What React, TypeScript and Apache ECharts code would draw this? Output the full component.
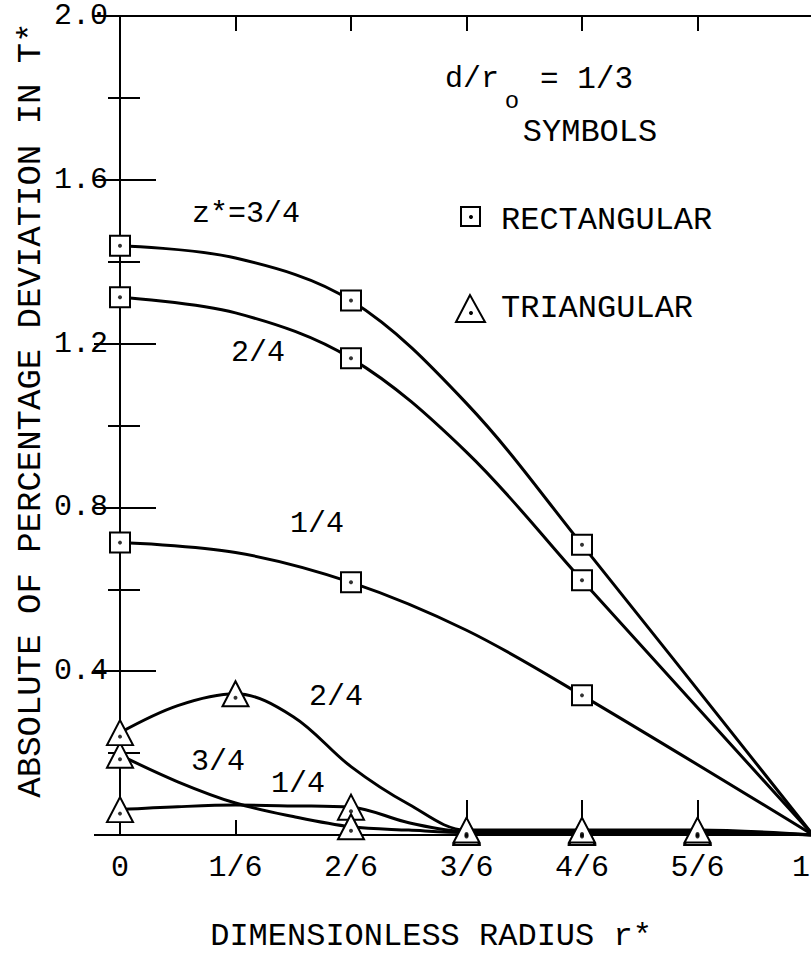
import React, { useEffect, useRef } from "react";
import * as echarts from "echarts";

// ---- data ----
const xTickValues = [0, 1 / 6, 2 / 6, 3 / 6, 4 / 6, 5 / 6, 1];
const xTickLabels = ["0", "1/6", "2/6", "3/6", "4/6", "5/6", "1"];
const yTickLabels = ["", "0.4", "0.8", "1.2", "1.6", "2.0"];

// rectangular elements (squares)
const rectR = [0, 1 / 6, 2 / 6, 3 / 6, 4 / 6, 1];
const rectMarked = [true, false, true, false, true, false];
const rectZ34 = [1.439, 1.409, 1.305, 1.054, 0.709, 0];
const rectZ24 = [1.313, 1.275, 1.164, 0.935, 0.622, 0];
const rectZ14 = [0.714, 0.69, 0.617, 0.5, 0.341, 0];

// triangular elements
const triR = [0, 1 / 12, 1 / 6, 1 / 4, 2 / 6, 5 / 12, 3 / 6, 4 / 6, 5 / 6, 1];
const triZ24 = [0.25, 0.316, 0.345, 0.289, 0.167, 0.075, 0.012, 0.012, 0.012, 0];
const triMarked24 = [true, false, true, false, false, false, true, true, true, false];
const triZ34 = [0.195, 0.13, 0.078, 0.045, 0.02, 0.012, 0.006, 0.006, 0.006, 0];
const triMarked34 = [true, false, false, false, true, false, true, true, true, false];
const triZ14 = [0.062, 0.069, 0.073, 0.071, 0.068, 0.03, 0.009, 0.009, 0.009, 0];
const triMarked14 = [true, false, false, false, true, false, true, true, true, false];

const FONT = "'Liberation Mono', 'Courier New', monospace";

function curve(name: string, rs: number[], vals: number[], marks: boolean[], symbol: string, size: any) {
  return {
    type: "line",
    name,
    smooth: 0.35,
    clip: false,
    symbolSize: size,
    data: rs.map((r, i) => ({ value: [r, vals[i]], symbol: marks[i] ? symbol : "none" })),
    lineStyle: { color: "#000", width: 3 },
    itemStyle: { color: "#fff", borderColor: "#000", borderWidth: 2 },
    z: 3,
  };
}

function dots(rs: number[], vals: number[], marks: boolean[], offsetY: number) {
  return {
    type: "scatter",
    clip: false,
    silent: true,
    symbol: "circle",
    symbolSize: 4,
    symbolOffset: [0, offsetY],
    data: rs.map((r, i) => [r, vals[i]]).filter((_, i) => marks[i]),
    itemStyle: { color: "#000" },
    z: 6,
  };
}

function txt(text: string, x: number, y: number, size: number, align = "center", extra: any = {}) {
  return {
    type: "text",
    x,
    y,
    z: 10,
    ...extra,
    style: {
      text,
      fill: "#000",
      font: `${size}px ${FONT}`,
      textAlign: align,
      textVerticalAlign: "middle",
    },
  };
}

const xLabel = (v: number) => xTickLabels[Math.round(v * 6)] ?? "";

export default function App() {
  const ref = useRef<HTMLDivElement>(null);
  useEffect(() => {
    const chart = echarts.init(ref.current!, null, { renderer: "svg" });
    const axisLine = { show: true, lineStyle: { color: "#000", width: 2 } };
    const option: any = {
      animation: false,
      backgroundColor: "#fff",
      grid: {
        left: 120,
        top: 16,
        width: 693,
        height: 819,
        containLabel: false,
        outerBoundsMode: "none",
      },
      xAxis: [
        {
          type: "value",
          position: "bottom",
          min: 0,
          max: 1,
          interval: 1 / 6,
          axisLine,
          splitLine: { show: false },
          axisTick: { show: true, inside: true, length: 15, customValues: [xTickValues[1]], lineStyle: { color: "#000", width: 2 } },
          axisLabel: {
            margin: 18,
            color: "#000",
            fontFamily: FONT,
            fontSize: 30,
            customValues: xTickValues.slice(0, 6),
            formatter: xLabel,
          },
        },
        {
          type: "value",
          position: "bottom",
          min: 0,
          max: 1,
          interval: 1 / 6,
          axisLine: { show: false },
          splitLine: { show: false },
          axisLabel: {
            show: true,
            margin: 18,
            color: "#000",
            fontFamily: FONT,
            fontSize: 30,
            align: "right",
            padding: [0, 3, 0, 0],
            customValues: [xTickValues[6]],
            formatter: xLabel,
          },
          axisTick: {
            show: true,
            inside: true,
            length: 35,
            customValues: xTickValues.slice(2, 6),
            lineStyle: { color: "#000", width: 2 },
          },
        },
        {
          type: "value",
          position: "top",
          min: 0,
          max: 1,
          interval: 1 / 6,
          axisLine,
          splitLine: { show: false },
          axisLabel: { show: false },
          axisTick: { show: true, inside: true, length: 15, lineStyle: { color: "#000", width: 2 } },
        },
      ],
      yAxis: [
        {
          type: "value",
          position: "left",
          min: 0,
          max: 2,
          interval: 0.4,
          axisLine,
          splitLine: { show: false },
          axisTick: { show: true, inside: true, length: 36, lineStyle: { color: "#000", width: 2 } },
          minorTick: { show: true, splitNumber: 2, length: 20, lineStyle: { color: "#000", width: 2 } },
          minorSplitLine: { show: false },
          axisLabel: {
            margin: 12,
            color: "#000",
            fontFamily: FONT,
            fontSize: 30,
            formatter: (v: number) => yTickLabels[Math.round(v / 0.4)] ?? "",
          },
        },
        {
          type: "value",
          position: "right",
          min: 0,
          max: 2,
          interval: 0.4,
          axisLine,
          splitLine: { show: false },
          axisLabel: { show: false },
          axisTick: { show: true, inside: true, length: 26, lineStyle: { color: "#000", width: 2 } },
          minorTick: { show: true, splitNumber: 2, length: 12, lineStyle: { color: "#000", width: 2 } },
        },
      ],
      series: [
        curve("rect 3/4", rectR, rectZ34, rectMarked, "rect", 20),
        curve("rect 2/4", rectR, rectZ24, rectMarked, "rect", 20),
        curve("rect 1/4", rectR, rectZ14, rectMarked, "rect", 20),
        curve("tri 1/4", triR, triZ14, triMarked14, "triangle", [26, 25]),
        curve("tri 3/4", triR, triZ34, triMarked34, "triangle", [26, 25]),
        curve("tri 2/4", triR, triZ24, triMarked24, "triangle", [26, 25]),
        dots(rectR, rectZ34, rectMarked, 0),
        dots(rectR, rectZ24, rectMarked, 0),
        dots(rectR, rectZ14, rectMarked, 0),
        dots(triR, triZ24, triMarked24, 4),
        dots(triR, triZ34, triMarked34, 4),
        dots(triR, triZ14, triMarked14, 4),
      ],
      graphic: [
        txt("z*=3/4", 246, 214, 30),
        txt("2/4", 258, 353, 30),
        txt("1/4", 317, 524, 30),
        txt("2/4", 336, 697, 30),
        txt("3/4", 218, 762, 30),
        txt("1/4", 298, 784, 30),
        txt("d/r", 445, 79, 30, "left"),
        txt("o", 512, 101, 24),
        txt("= 1/3", 540, 79, 31, "left"),
        txt("SYMBOLS", 590, 132, 32),
        txt("RECTANGULAR", 501, 220, 32, "left"),
        txt("TRIANGULAR", 501, 308, 32, "left"),
        {
          type: "rect",
          z: 10,
          shape: { x: 461, y: 207, width: 19, height: 19 },
          style: { fill: "#fff", stroke: "#000", lineWidth: 2 },
        },
        { type: "circle", z: 11, shape: { cx: 471, cy: 217, r: 2 }, style: { fill: "#000" } },
        {
          type: "polygon",
          z: 10,
          shape: { points: [[470, 295], [456, 322], [485, 322]] },
          style: { fill: "#fff", stroke: "#000", lineWidth: 2 },
        },
        { type: "circle", z: 11, shape: { cx: 471, cy: 313, r: 2 }, style: { fill: "#000" } },
        txt("DIMENSIONLESS RADIUS r*", 431, 936, 32),
        txt("ABSOLUTE OF PERCENTAGE DEVIATION IN T*", 31, 410, 34, "center", { rotation: Math.PI / 2 }),
      ],
    };
    chart.setOption(option);
    return () => chart.dispose();
  }, []);
  return (
    <div
      ref={ref}
      style={{ position: "absolute", left: 0, top: 0, width: 811, height: 954, background: "#fff" }}
    />
  );
}
